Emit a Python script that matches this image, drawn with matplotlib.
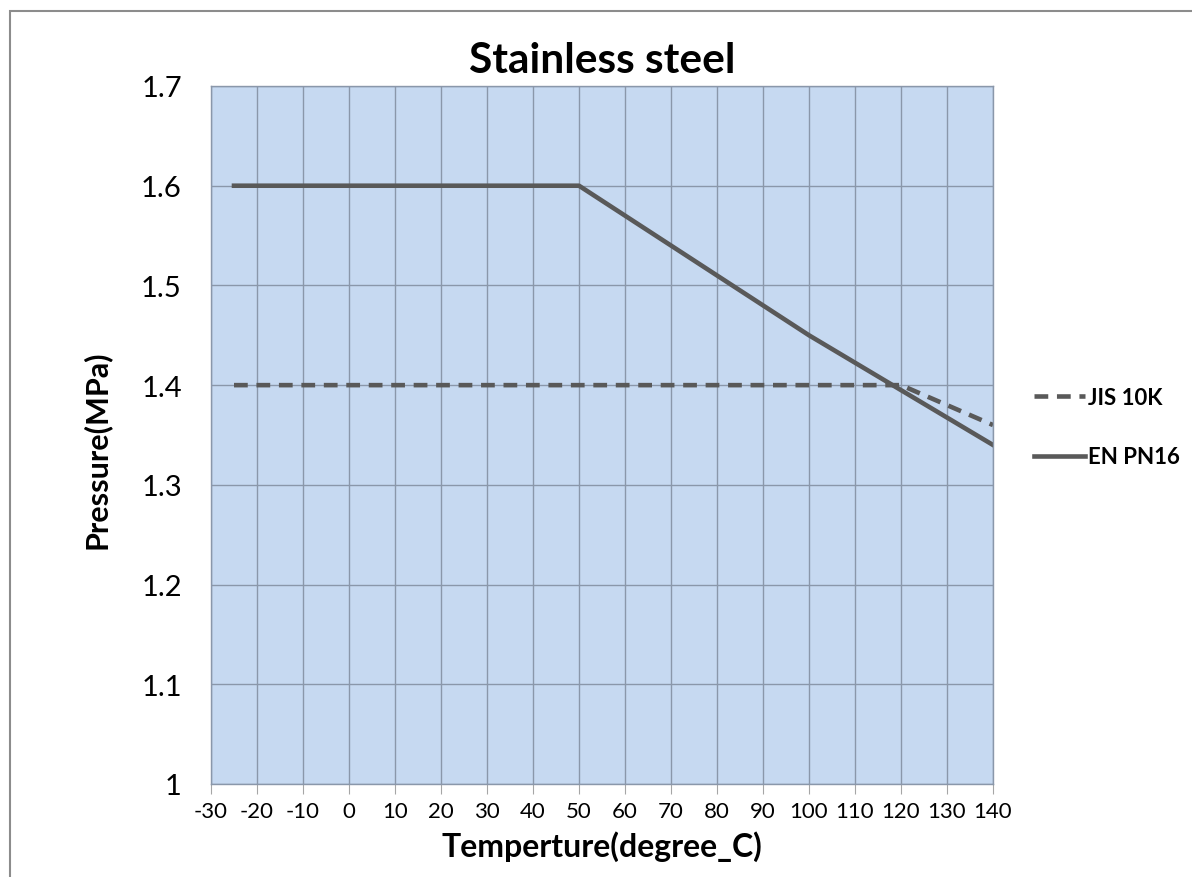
import matplotlib
matplotlib.use("Agg")
import matplotlib.pyplot as plt
from matplotlib.patches import Rectangle

# Data
temp_jis = [-25, 120, 140]
p_jis = [1.40, 1.40, 1.36]
temp_en = [-25, 50, 100, 140]
p_en = [1.60, 1.60, 1.45, 1.34]
x_ticks = list(range(-30, 141, 10))
y_ticks = [1, 1.1, 1.2, 1.3, 1.4, 1.5, 1.6, 1.7]
y_labels = ["1", "1.1", "1.2", "1.3", "1.4", "1.5", "1.6", "1.7"]

plt.rcParams['font.family'] = ['Lato', 'DejaVu Sans']

fig = plt.figure(figsize=(11.92, 8.78), dpi=100)
fig.patches.append(Rectangle((10/1192, -0.1), 1.2, 1 - 12/878 + 0.1, transform=fig.transFigure,
                             fill=False, edgecolor='#8c8c8c', linewidth=1.5))
ax = fig.add_axes([211/1192, 1 - 785/878, 782/1192, 698/878])
ax.set_facecolor('#C6D9F1')

ax.plot(temp_jis, p_jis, color='#595959', linewidth=3.3, linestyle=(0, (3.0, 1.9)), label='JIS 10K')
ax.plot(temp_en, p_en, color='#595959', linewidth=3.3, label='EN PN16')

ax.set_xlim(-30, 140)
ax.set_ylim(1, 1.7)
ax.set_xticks(x_ticks)
ax.set_xticklabels([str(v) for v in x_ticks], fontsize=16)
ax.set_yticks(y_ticks)
ax.set_yticklabels(y_labels, fontsize=21)
ax.grid(True, color='#8a97aa', linewidth=1.0)
ax.set_axisbelow(True)
ax.tick_params(axis='x', length=7, color='#a6a6a6', pad=5)
ax.tick_params(axis='y', length=0, pad=21)
for s in ax.spines.values():
    s.set_color('#8a97aa')
    s.set_linewidth(1.0)

ax.set_title('Stainless steel', fontsize=30.5, fontweight='bold', pad=10)
ax.set_xlabel('Temperture(degree_C)', fontsize=23, fontweight='bold', labelpad=7)
ax.set_ylabel('Pressure(MPa)', fontsize=22, fontweight='bold')
ax.yaxis.set_label_coords(-0.128, 0.48)

leg = fig.legend(loc='center left', bbox_to_anchor=(1014/1192, 1 - 428/878), frameon=False,
                 prop={'family': ['Lato', 'DejaVu Sans'], 'weight': 'bold', 'size': 16},
                 handlelength=2.3, handletextpad=0.12, labelspacing=1.75)

fig.savefig('out.png', dpi=100)
